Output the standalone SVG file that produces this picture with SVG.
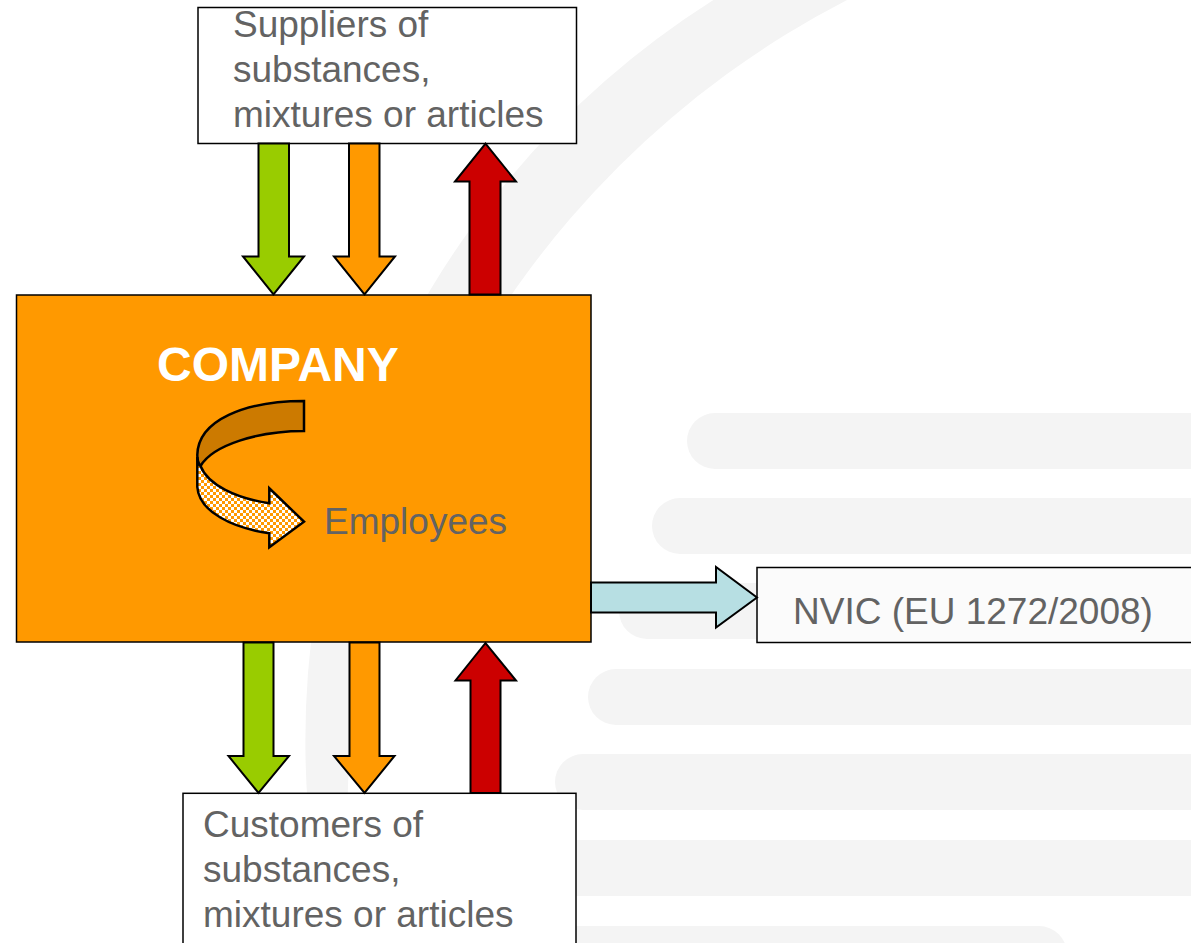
<svg xmlns="http://www.w3.org/2000/svg" width="1191" height="943" viewBox="0 0 1191 943">
  <defs>
    <pattern id="checker" x="0" y="0" width="6" height="6" patternUnits="userSpaceOnUse">
      <rect width="6" height="6" fill="#FF9900"/>
      <rect x="0" y="0" width="3" height="3" fill="#FFFFFF"/>
      <rect x="3" y="3" width="3" height="3" fill="#FFFFFF"/>
    </pattern>
    <style>
      .bg { fill: #F4F4F4; }
      .box { fill: #FFFFFF; stroke: #000000; stroke-width: 1.5; }
      .txt { font-family: "Liberation Sans", Arial, sans-serif; font-size: 37px; fill: #636363; }
      .arr { stroke: #000000; stroke-width: 2; stroke-linejoin: miter; }
      .green { fill: #99CC00; }
      .orange { fill: #FF9900; }
      .red { fill: #CC0000; }
      .cyan { fill: #B7DFE3; }
    </style>
  </defs>

  <rect width="1191" height="943" fill="#FFFFFF"/>

  <g id="background">
    <path class="bg" d="M713.4,0 A876.5,876.5 0 0 0 329,943 L355.6,943 A922.7,922.7 0 0 1 847,0 Z"/>
    <rect class="bg" x="687" y="413" width="600" height="56" rx="28"/>
    <rect class="bg" x="652" y="498" width="600" height="56" rx="28"/>
    <rect class="bg" x="619" y="583" width="650" height="56" rx="28"/>
    <rect class="bg" x="588" y="669" width="700" height="56" rx="28"/>
    <rect class="bg" x="555" y="754" width="700" height="56" rx="28"/>
    <rect class="bg" x="522" y="840" width="700" height="56" rx="28"/>
    <rect class="bg" x="490" y="926" width="577" height="56" rx="28"/>
  </g>

  <g id="suppliers">
    <rect class="box" x="198" y="7.5" width="378.5" height="136"/>
    <text class="txt" x="233" y="37">Suppliers of</text>
    <text class="txt" x="233" y="82">substances,</text>
    <text class="txt" x="233" y="127">mixtures or articles</text>
  </g>

  <g id="company">
    <rect x="16.5" y="295" width="574.5" height="347" fill="#FF9900" stroke="#000000" stroke-width="1.5"/>
    <text x="157" y="381" font-family="'Liberation Sans', Arial, sans-serif" font-size="48" font-weight="bold" fill="#FFFFFF">COMPANY</text>
    <g id="employees-arrow" stroke="#000000" stroke-width="2.5" stroke-linejoin="miter">
      <path d="M304,401 C245,401 198,420 197.3,455 C197.3,460 198.5,464 200.5,466 C213,445 258,431 304,431 Z" fill="#CC7A00"/>
      <path d="M197.3,457 L197.3,487 C199,512 233,528 269.3,533.3 L269.3,547.3 L304,521.7 L269.3,488.3 L269.3,503.3 C236,498 208,485 200.5,466 C198.5,464 197.3,461 197.3,457 Z" fill="url(#checker)"/>
    </g>
    <text class="txt" x="324" y="534">Employees</text>
  </g>

  <g id="nvic">
    <rect x="757" y="567.5" width="440" height="75" fill="#FBFBFB" stroke="#000000" stroke-width="1.5"/>
    <text class="txt" x="793" y="624">NVIC (EU 1272/2008)</text>
  </g>

  <g id="customers">
    <rect class="box" x="183" y="793.3" width="393" height="160"/>
    <text class="txt" x="203" y="837">Customers of</text>
    <text class="txt" x="203" y="882">substances,</text>
    <text class="txt" x="203" y="927">mixtures or articles</text>
  </g>

  <g id="connectors">
    <polygon class="arr green" points="258.5,143.5 289,143.5 289,256.5 304,256.5 273.5,294.5 243,256.5 258.5,256.5"/>
    <polygon class="arr orange" points="349,143.5 379.5,143.5 379.5,256.5 395,256.5 364.5,294.5 334,256.5 349,256.5"/>
    <polygon class="arr red" points="469.5,294.5 500.5,294.5 500.5,181.5 516,181.5 485.5,143.5 455,181.5 469.5,181.5"/>
    <polygon class="arr green" points="243.5,642.5 273.5,642.5 273.5,756 289,756 258.5,793 228.5,756 243.5,756"/>
    <polygon class="arr orange" points="349.5,642.5 379.5,642.5 379.5,756 394.5,756 364.5,793 334,756 349.5,756"/>
    <polygon class="arr red" points="470.5,793 500.5,793 500.5,680.5 516,680.5 485.5,643 455.5,680.5 470.5,680.5"/>
    <polygon class="arr cyan" points="591,582.5 716,582.5 716,567 757,597.5 716,627.5 716,612.5 591,612.5"/>
  </g>
</svg>
